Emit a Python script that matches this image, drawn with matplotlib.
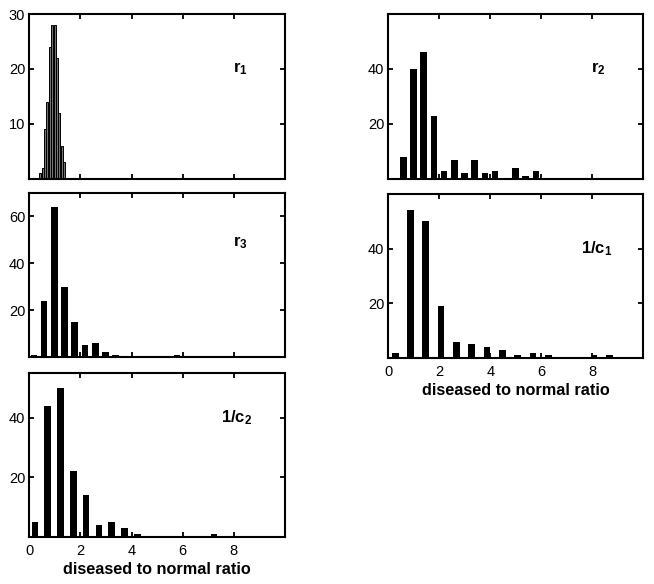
import matplotlib
matplotlib.use("Agg")
import matplotlib.pyplot as plt

plt.rcParams['font.family'] = ['Liberation Sans', 'DejaVu Sans']
plt.rcParams['mathtext.fontset'] = 'custom'
plt.rcParams['mathtext.rm'] = 'Liberation Sans:bold'
plt.rcParams['mathtext.it'] = 'Liberation Sans:bold'
plt.rcParams['mathtext.bf'] = 'Liberation Sans:bold'

# ---- data (bin centres and counts) ----
r1_x = [0.42, 0.52, 0.61, 0.71, 0.80, 0.90, 0.99, 1.09, 1.18, 1.28, 1.37]
r1_y = [1, 2, 9, 14, 24, 28, 28, 22, 12, 6, 3]

r2_x = [0.59, 0.99, 1.39, 1.79, 2.19, 2.59, 2.99, 3.39, 3.79, 4.19, 4.99, 5.39, 5.79]
r2_y = [8, 40, 46, 23, 3, 7, 2, 7, 2, 3, 4, 1, 3]

r3_x = [0.18, 0.58, 0.98, 1.38, 1.78, 2.18, 2.58, 2.98, 3.38, 5.78]
r3_y = [1, 24, 64, 30, 15, 5, 6, 2, 1, 1]

c1_x = [0.27, 0.87, 1.47, 2.07, 2.67, 3.27, 3.87, 4.47, 5.07, 5.67, 6.27, 8.07, 8.67]
c1_y = [2, 54, 50, 19, 6, 5, 4, 3, 1, 2, 1, 1, 1]

c2_x = [0.22, 0.72, 1.22, 1.72, 2.22, 2.72, 3.22, 3.72, 4.22, 7.22]
c2_y = [5, 44, 50, 22, 14, 4, 5, 3, 1, 1]

xticks = [0, 2, 4, 6, 8]
xlabel = "diseased to normal ratio"

W, H = 654, 584
fig = plt.figure(figsize=(W / 100, H / 100), dpi=100)


def box(l, t, r, b):
    return [l / W, 1 - b / H, (r - l) / W, (b - t) / H]


panels = [
    # rect, x, y, ylim, yticks, label, label pos, xlabels, width, style
    (box(29.3, 14, 285, 179), r1_x, r1_y, 30, [10, 20, 30], r'$r_1$', (7.95, 20), False, 0.08, 'thin'),
    (box(29.3, 193, 285, 357), r3_x, r3_y, 70, [20, 40, 60], r'$r_3$', (7.95, 49), False, 0.26, 'bar'),
    (box(29.3, 373, 285, 537), c2_x, c2_y, 55, [20, 40], r'$1/c_2$', (7.5, 40), True, 0.26, 'bar'),
    (box(388.3, 14, 643.3, 179), r2_x, r2_y, 60, [20, 40], r'$r_2$', (7.95, 40), False, 0.26, 'bar'),
    (box(388.3, 194, 643.3, 358), c1_x, c1_y, 60, [20, 40], r'$1/c_1$', (7.55, 40), True, 0.26, 'bar'),
]

for rect, xs, ys, ymax, yt, lab, lpos, showx, wdt, style in panels:
    ax = fig.add_axes(rect)
    if style == 'thin':
        ax.bar(xs, ys, width=wdt, color='0.45', edgecolor='k', linewidth=0.7)
    else:
        ax.bar(xs, ys, width=wdt, color='k', edgecolor='k', linewidth=0)
    ax.set_xlim(0, 10)
    ax.set_ylim(0, ymax)
    ax.set_xticks(xticks)
    ax.set_yticks(yt)
    ax.tick_params(direction='in', top=True, right=True, length=3.5, width=1.3,
                   labelsize=10.5, pad=3)
    ax.tick_params(axis='x', pad=5)
    if not showx:
        ax.set_xticklabels([])
    else:
        ax.set_xlabel(xlabel, fontsize=11.7, fontweight='bold', labelpad=3)
    for s in ax.spines.values():
        s.set_linewidth(1.5)
    ax.text(lpos[0], lpos[1], lab, fontsize=12, ha='left', va='center')

fig.savefig("out.png", dpi=100)
